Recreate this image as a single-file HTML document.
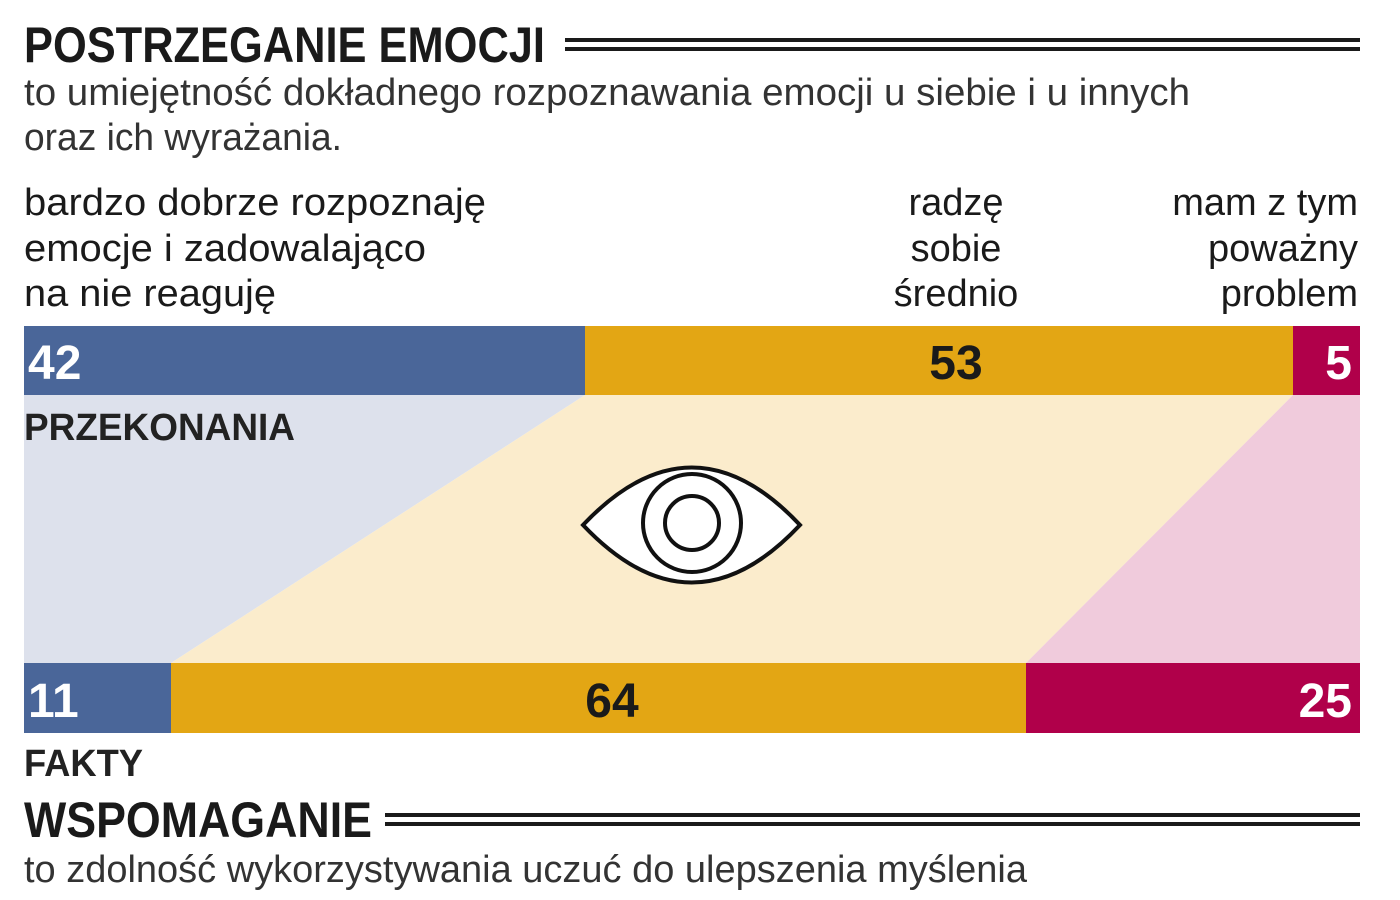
<!DOCTYPE html>
<html><head><meta charset="utf-8"><style>
html,body{margin:0;padding:0;background:#fff;}
svg{display:block;}
text{font-family:"Liberation Sans Narrow","Liberation Sans",sans-serif;}
</style></head><body>
<svg width="1400" height="900" viewBox="0 0 1400 900" xmlns="http://www.w3.org/2000/svg">
<rect width="1400" height="900" fill="#fff"/>
<text x="24" y="62" font-size="50" font-weight="bold" fill="#1a1a1a" textLength="521" lengthAdjust="spacingAndGlyphs">POSTRZEGANIE EMOCJI</text>
<rect x="565" y="38" width="795" height="4" fill="#1a1a1a"/>
<rect x="565" y="47" width="795" height="4" fill="#1a1a1a"/>
<text x="24" y="105" font-size="38" fill="#333" textLength="1166" lengthAdjust="spacingAndGlyphs">to umiejętność dokładnego rozpoznawania emocji u siebie i u innych</text>
<text x="24" y="150" font-size="38" fill="#333" textLength="318" lengthAdjust="spacingAndGlyphs">oraz ich wyrażania.</text>
<g font-size="38" fill="#1a1a1a">
<text x="24" y="215" textLength="462" lengthAdjust="spacingAndGlyphs">bardzo dobrze rozpoznaję</text>
<text x="24" y="261" textLength="402" lengthAdjust="spacingAndGlyphs">emocje i zadowalająco</text>
<text x="24" y="306" textLength="252" lengthAdjust="spacingAndGlyphs">na nie reaguję</text>
<text x="956" y="215" text-anchor="middle">radzę</text>
<text x="956" y="261" text-anchor="middle">sobie</text>
<text x="956" y="306" text-anchor="middle">średnio</text>
<text x="1358" y="215" text-anchor="end">mam z tym</text>
<text x="1358" y="261" text-anchor="end">poważny</text>
<text x="1358" y="306" text-anchor="end">problem</text>
</g>
<polygon points="24,395 585,395 171,663 24,663" fill="#dde1ec"/>
<polygon points="585,395 1293,395 1026,663 171,663" fill="#fbeccc"/>
<polygon points="1293,395 1360,395 1360,663 1026,663" fill="#f0cbdc"/>
<rect x="24" y="326" width="561" height="69" fill="#4a6699"/>
<rect x="585" y="326" width="708" height="69" fill="#e3a614"/>
<rect x="1293" y="326" width="67" height="69" fill="#b0004a"/>
<rect x="24" y="663" width="147" height="70" fill="#4a6699"/>
<rect x="171" y="663" width="855" height="70" fill="#e3a614"/>
<rect x="1026" y="663" width="334" height="70" fill="#b0004a"/>
<g font-size="48" font-weight="bold">
<text x="28" y="379" fill="#fff">42</text>
<text x="956" y="379" fill="#1a1a1a" text-anchor="middle">53</text>
<text x="1352" y="379" fill="#fff" text-anchor="end">5</text>
<text x="28" y="717" fill="#fff">11</text>
<text x="612" y="717" fill="#1a1a1a" text-anchor="middle">64</text>
<text x="1352" y="717" fill="#fff" text-anchor="end">25</text>
</g>
<text x="24" y="440" font-size="38" font-weight="bold" fill="#222" textLength="271" lengthAdjust="spacingAndGlyphs">PRZEKONANIA</text>
<text x="24" y="776" font-size="38" font-weight="bold" fill="#222" textLength="119" lengthAdjust="spacingAndGlyphs">FAKTY</text>
<path d="M583,525 Q692,410 800,525 Q692,640 583,525 Z" fill="#fff" stroke="#111" stroke-width="4"/>
<circle cx="692" cy="523" r="49" fill="none" stroke="#111" stroke-width="4"/>
<circle cx="692" cy="523" r="27" fill="none" stroke="#111" stroke-width="4"/>
<text x="24" y="837" font-size="50" font-weight="bold" fill="#1a1a1a" textLength="348" lengthAdjust="spacingAndGlyphs">WSPOMAGANIE</text>
<rect x="385" y="813" width="975" height="4" fill="#1a1a1a"/>
<rect x="385" y="822" width="975" height="4" fill="#1a1a1a"/>
<text x="24" y="882" font-size="38" fill="#333" textLength="1003" lengthAdjust="spacingAndGlyphs">to zdolność wykorzystywania uczuć do ulepszenia myślenia</text>
</svg>
</body></html>
